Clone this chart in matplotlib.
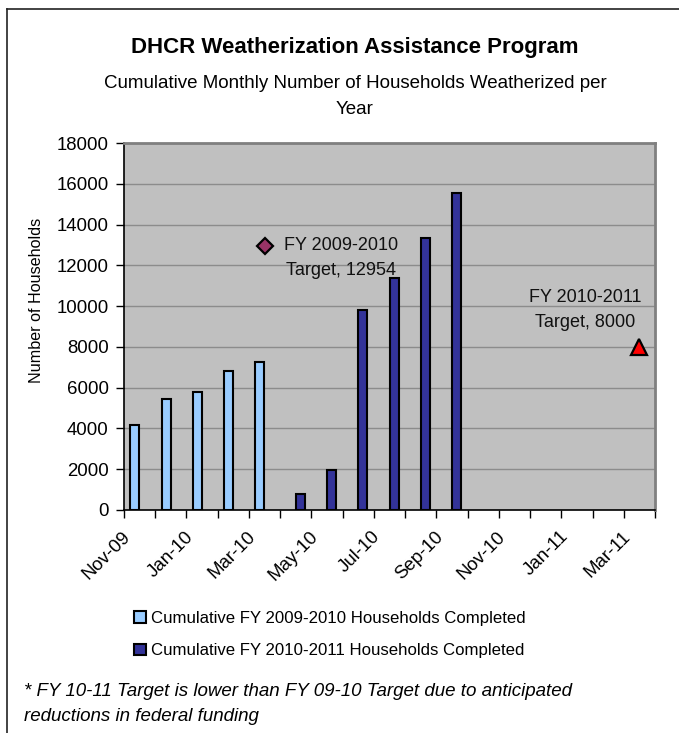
import matplotlib
matplotlib.use('Agg')
import matplotlib.pyplot as plt
import matplotlib.transforms as mtransforms
from matplotlib.patches import Patch
from matplotlib.lines import Line2D

plt.rcParams['font.family'] = ['Liberation Sans', 'DejaVu Sans']

# data
months = ['Nov-09', 'Dec-09', 'Jan-10', 'Feb-10', 'Mar-10', 'Apr-10', 'May-10',
          'Jun-10', 'Jul-10', 'Aug-10', 'Sep-10', 'Oct-10', 'Nov-10', 'Dec-10',
          'Jan-11', 'Feb-11', 'Mar-11']
fy0910_months = ['Nov-09', 'Dec-09', 'Jan-10', 'Feb-10', 'Mar-10']
fy0910_done = [4180, 5440, 5800, 6830, 7240]
fy1011_months = ['Apr-10', 'May-10', 'Jun-10', 'Jul-10', 'Aug-10', 'Sep-10']
fy1011_done = [800, 1950, 9800, 11400, 13320, 15540]
target_0910 = ('Mar-10', 12954)
target_1011 = ('Mar-11', 8000)

W, H = 679, 733
fig = plt.figure(figsize=(W / 100, H / 100), dpi=100)
ax = fig.add_axes([124 / W, 1 - 510 / H, 531 / W, 367 / H])
ax.set_facecolor('#C0C0C0')

x0910 = [months.index(m) + 0.35 for m in fy0910_months]
x1011 = [months.index(m) + 0.65 for m in fy1011_months]
ax.bar(x0910, fy0910_done, width=0.29, color='#99CCFF', edgecolor='black', linewidth=1.5, zorder=3)
ax.bar(x1011, fy1011_done, width=0.29, color='#333399', edgecolor='black', linewidth=1.5, zorder=3)

tx1 = months.index(target_0910[0]) + 0.5
tx2 = months.index(target_1011[0]) + 0.5
ax.plot([tx1], [target_0910[1]], marker='D', ms=8, mfc='#993366', mec='black', mew=1.6, ls='none', zorder=4)
ax.plot([tx2], [target_1011[1]], marker='^', ms=11, mfc='#FF0000', mec='black', mew=1.6, ls='none', zorder=4)
ax.annotate('FY 2009-2010\nTarget, %d' % target_0910[1], (tx1, target_0910[1]),
            xytext=(55, -9), textcoords='offset points', ha='center', va='center',
            multialignment='center', fontsize=13, linespacing=1.6, color='#111111')
ax.annotate('FY 2010-2011\nTarget, %d' % target_1011[1], (tx2, target_1011[1]),
            xytext=(-39, 26.5), textcoords='offset points', ha='center', va='center',
            multialignment='center', fontsize=13, linespacing=1.6, color='#111111')

ax.set_xlim(0, len(months))
ax.set_ylim(0, 18000)
ax.set_yticks(range(0, 18001, 2000))
ax.yaxis.grid(True, color='#8C8C8C', lw=1)
ax.set_axisbelow(True)
ax.tick_params(axis='y', direction='out', length=6, width=1, pad=5, labelsize=13.4)

ax.set_xticks(range(len(months) + 1))
ax.set_xticklabels([m if i % 2 == 0 else '' for i, m in enumerate(months)] + [''],
                   rotation=45, ha='right', va='top', rotation_mode='anchor')
ax.tick_params(axis='x', direction='out', length=6, width=1, pad=7, labelsize=13.4)
off = mtransforms.ScaledTranslation(-2 / 100, 0, fig.dpi_scale_trans)
for lab in ax.get_xticklabels():
    lab.set_transform(lab.get_transform() + off)

for s in ['top', 'right']:
    ax.spines[s].set_color('#808080')
    ax.spines[s].set_linewidth(2)
for s in ['left', 'bottom']:
    ax.spines[s].set_color('black')
    ax.spines[s].set_linewidth(1.2)

ax.set_ylabel('Number of Households', fontsize=11.6)
ax.yaxis.set_label_coords((37 - 124) / 531, (510 - 300) / 367)
ax.yaxis.label.set_va('center')

fig.text(355 / W, 1 - 47 / H, 'DHCR Weatherization Assistance Program',
         ha='center', va='center', fontsize=16, fontweight='bold')
fig.text(355 / W, 1 - 96.5 / H, 'Cumulative Monthly Number of Households Weatherized per\nYear',
         ha='center', va='center', fontsize=13.5, linespacing=1.76)

handles = [Patch(facecolor='#99CCFF', edgecolor='black', linewidth=1.5),
           Patch(facecolor='#333399', edgecolor='black', linewidth=1.5)]
fig.legend(handles, ['Cumulative FY 2009-2010 Households Completed',
                     'Cumulative FY 2010-2011 Households Completed'],
           loc='center', bbox_to_anchor=(330 / W, 1 - 634.5 / H), frameon=False,
           fontsize=12.1, handlelength=0.7, handleheight=0.7, handletextpad=0.3,
           labelspacing=1.05)

fig.text(24 / W, 1 - 704 / H,
         '* FY 10-11 Target is lower than FY 09-10 Target due to anticipated\nreductions in federal funding',
         ha='left', va='center', fontsize=13.5, style='italic', linespacing=1.6)

# chart area border (cropped on right and bottom)
fig.add_artist(Line2D([7 / W, 7 / W], [0, 1 - 9 / H], color='#222222', lw=1.2))
fig.add_artist(Line2D([7 / W, 1], [1 - 9 / H, 1 - 9 / H], color='#222222', lw=1.2))

fig.savefig('out.png', dpi=100)
